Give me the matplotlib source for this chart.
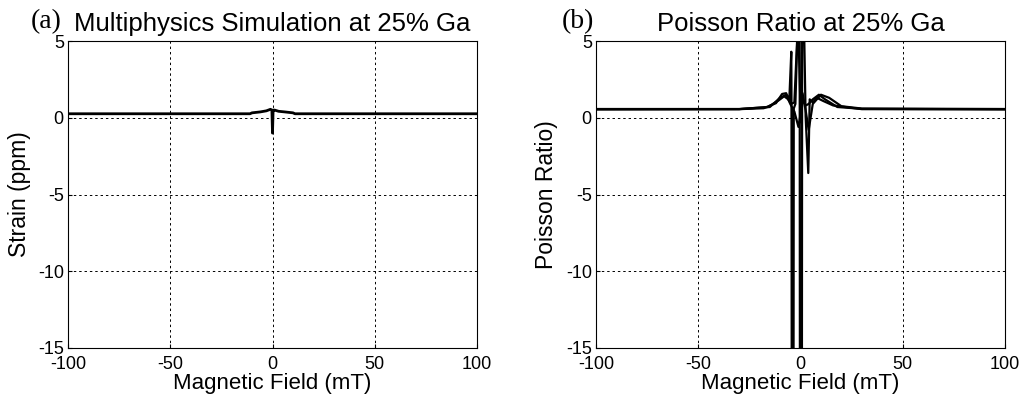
import matplotlib.pyplot as plt
import numpy as np

# (a) strain vs field
field_a = [-100, -11, -10, -6, -3, -1, -0.3, 0, 0.3, 1, 3, 6, 10, 11, 100]
strain = [0.26, 0.26, 0.32, 0.38, 0.45, 0.55, 0.5, -1.0, 0.5, 0.5, 0.42, 0.38, 0.32, 0.26, 0.26]

# (b) poisson ratio, several traces
field_b1 = [-100, -30, -18, -12, -9, -7, -5.5, -4.5, -4.4, -4.3, -3.4, -3.3, -2.5, -1.5, -1.0, 0.2, 1.0, 2.5, 4, 6, 9, 12, 18, 30, 100]
poisson_1 = [0.55, 0.56, 0.62, 0.95, 1.55, 1.6, 1.1, 4.3, 0.5, -16, -16, 0.6, 0.9, 5.5, 5.5, -0.3, 1.2, 0.8, 0.9, 1.2, 1.5, 1.2, 0.7, 0.58, 0.55]
field_b2 = [-100, -30, -16, -11, -8, -6, -4.5, -3, -1.5, -0.4, -0.3, 0.7, 0.8, 1.8, 2.5, 3.8, 4.5, 6, 8, 11, 16, 30, 100]
poisson_2 = [0.55, 0.56, 0.7, 1.1, 1.4, 1.2, 0.9, 1.0, 5.5, 5.5, -16, -16, 5.5, 5.5, 0.1, -3.6, 1.2, 1.0, 1.3, 1.1, 0.8, 0.56, 0.55]
field_b3 = [-100, -30, -15, -10, -7, -5, -3, -1, 0, 1, 2.5, 4, 6, 10, 14, 20, 30, 100]
poisson_3 = [0.57, 0.57, 0.7, 1.3, 1.5, 0.9, 0.4, -0.6, 0.2, 1.6, 0.5, -0.8, 0.9, 1.5, 1.3, 0.75, 0.6, 0.57]

plt.rcParams['font.family'] = ['Liberation Sans', 'DejaVu Sans']
plt.rcParams['axes.unicode_minus'] = False

fig = plt.figure(figsize=(10.22, 4.0), dpi=100)
ax1 = fig.add_axes([68/1022, 1-348/400, 409/1022, 307/400])
ax2 = fig.add_axes([596/1022, 1-348/400, 409/1022, 307/400])

def style(ax, ylabel, title, ypad):
    ax.set_xlim(-100, 100)
    ax.set_ylim(-15, 5)
    ax.set_xticks([-100, -50, 0, 50, 100])
    ax.set_yticks([-15, -10, -5, 0, 5])
    ax.grid(True, color='k', linestyle=(0, (2.5, 3)), linewidth=0.7)
    ax.tick_params(direction='in', length=3, labelsize=13, color='k')
    ax.tick_params(axis='x', pad=6)
    ax.tick_params(axis='y', pad=3)
    ax.set_xlabel('Magnetic Field (mT)', fontsize=16, labelpad=0)
    ax.set_ylabel(ylabel, fontsize=16.5, labelpad=ypad)
    ax.set_title(title, fontsize=18.5, pad=7)
    for s in ax.spines.values():
        s.set_color('k')
        s.set_linewidth(0.8)

ax1.plot(field_a, strain, 'k-', lw=2)
style(ax1, 'Strain (ppm)', 'Multiphysics Simulation at 25% Ga', 5)

ax2.plot(field_b1, poisson_1, 'k-', lw=1.6)
ax2.plot(field_b2, poisson_2, 'k-', lw=1.6)
ax2.plot(field_b3, poisson_3, 'k-', lw=1.6)
style(ax2, 'Poisson Ratio)', 'Poisson Ratio at 25% Ga', 6)

fig.text(31/1022, 1-22/400, '(a)', fontsize=20, family='Liberation Serif', va='center')
fig.text(562/1022, 1-22/400, '(b)', fontsize=20, family='Liberation Serif', va='center')

plt.savefig('out.png', dpi=100)
